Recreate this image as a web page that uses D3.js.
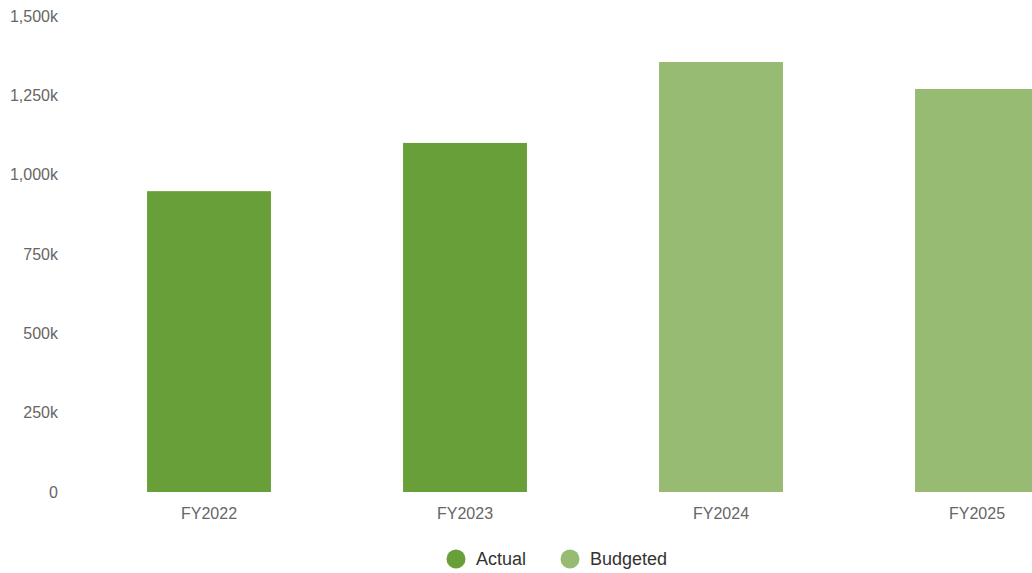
<!DOCTYPE html>
<html>
<head>
<meta charset="utf-8">
<script src="https://cdn.jsdelivr.net/npm/d3@7"></script>
<style>
  html, body { margin: 0; padding: 0; background: #fff; overflow: hidden; }
  svg { display: block; font-family: "Liberation Sans", Arial, sans-serif; }
</style>
</head>
<body>
<svg id="chart" width="1032" height="573"></svg>
<script>
// Fiscal-year spend, in thousands
const categories = ["FY2022", "FY2023", "FY2024", "FY2025"];
const values = [948, 1100, 1355, 1270];
const kinds = ["Actual", "Actual", "Budgeted", "Budgeted"];
const seriesNames = ["Actual", "Budgeted"];
const seriesColors = ["#689f38", "#97bb73"];
const yTicks = [0, 250, 500, 750, 1000, 1250, 1500];

const svg = d3.select("#chart");
const color = d3.scaleOrdinal().domain(seriesNames).range(seriesColors);

const x = d3.scaleBand()
  .domain(categories)
  .range([81, 1105])
  .paddingInner(0.516)
  .paddingOuter(0.258);

const y = d3.scaleLinear().domain([0, 1500]).range([492, 16]);

// y axis labels (no line, no ticks)
const yAxis = svg.append("g")
  .attr("transform", "translate(58,0)")
  .call(d3.axisLeft(y).tickValues(yTicks).tickSize(0).tickPadding(0)
    .tickFormat(d => d3.format(",")(d) + (d === 0 ? "" : "k")));
yAxis.select(".domain").remove();
yAxis.selectAll("text").attr("fill", "#666").style("font-size", "16px");

// bars
svg.append("g").selectAll("rect")
  .data(categories)
  .join("rect")
  .attr("x", d => x(d))
  .attr("width", x.bandwidth())
  .attr("y", (d, i) => y(values[i]))
  .attr("height", (d, i) => y(0) - y(values[i]))
  .attr("fill", (d, i) => color(kinds[i]));

// x axis labels
const xAxis = svg.append("g")
  .attr("transform", "translate(0,492)")
  .call(d3.axisBottom(x).tickSize(0).tickPadding(16));
xAxis.select(".domain").remove();
xAxis.selectAll("text").attr("fill", "#666").style("font-size", "16px");

// legend
const legend = svg.append("g").attr("transform", "translate(0,559)");
const legendX = [456, 570];
seriesNames.forEach((name, i) => {
  const g = legend.append("g").attr("transform", `translate(${legendX[i]},0)`);
  g.append("circle").attr("r", 9.5).attr("fill", color(name));
  g.append("text")
    .attr("x", 20).attr("dy", "0.35em")
    .attr("fill", "#333")
    .style("font-size", "18px")
    .text(name);
});
</script>
</body>
</html>
